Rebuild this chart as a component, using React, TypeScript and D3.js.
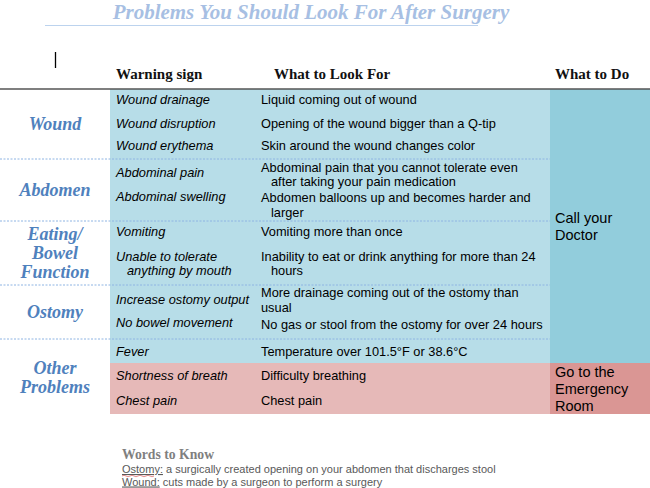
import React from "react";
import * as d3 from "d3";

// ---------- data ----------
const title = "Problems You Should Look For After Surgery";
const headers = ["Warning sign", "What to Look For", "What to Do"];

const categories = ["Wound", "Abdomen", "Eating/|Bowel|Function", "Ostomy", "Other|Problems"];
const warningSigns = [
  "Wound drainage",
  "Wound disruption",
  "Wound erythema",
  "Abdominal pain",
  "Abdominal swelling",
  "Vomiting",
  "Unable to tolerate|anything by mouth",
  "Increase ostomy output",
  "No bowel movement",
  "Fever",
  "Shortness of breath",
  "Chest pain",
];
const lookFor = [
  "Liquid coming out of wound",
  "Opening of the wound bigger than a Q-tip",
  "Skin around the wound changes color",
  "Abdominal pain that you cannot tolerate even|after taking your pain medication",
  "Abdomen balloons up and becomes harder and|larger",
  "Vomiting more than once",
  "Inability to eat or drink anything for more than 24|hours",
  "More drainage coming out of the ostomy than|~usual",
  "No gas or stool from the ostomy for over 24 hours",
  "Temperature over 101.5°F or 38.6°C",
  "Difficulty breathing",
  "Chest pain",
];
const actions = { call: "Call your|Doctor", er: "Go to the|Emergency|Room" };

const glossaryTitle = "Words to Know";
const glossaryTerms = ["Ostomy:", "Wound:"];
const glossaryDefs = [" a surgically created opening on your abdomen that discharges stool", " cuts made by a surgeon to perform a surgery"];

// ---------- layout ----------
const W = 650, H = 488;
const rowCenters = [100, 124, 146, 174.5, 205, 232, 263.5, 300, 325, 351.5, 376, 401];
const signOffsets = [0, 0, 0, -1.5, -8, 0, 0, 0, -2, 0, 0, 0];
const tableTop = 89, tableBottom = 414, pinkStart = 363;
const xCat = 55, xSign = 116, xLook = 261, xDo = 550, xTextDo = 555;
const separators = [159, 221, 285, 339];
const catCenters = [124, 190, 253, 312, 377];

const yScale = d3.scaleLinear().domain([0, H]).range([0, H]);
const lineH = 14.5;

const blueLight = "#b7dde8";
const blueDark = "#92cddc";
const pinkLight = "#e6b9b8";
const pinkDark = "#da9694";

function Lines({ text, x, cy, size, lh, indent = 11, anchor = "start", fill = "#000", family, weight, italic }: any) {
  const parts = text.split("|");
  const y0 = cy - ((parts.length - 1) * lh) / 2;
  return (
    <text fontFamily={family} fontSize={size} fontWeight={weight} fontStyle={italic ? "italic" : "normal"} fill={fill} textAnchor={anchor}>
      {parts.map((p: string, i: number) => {
        const noIndent = p.startsWith("~");
        const t = noIndent ? p.slice(1) : p;
        const dx = anchor === "start" && i > 0 && !noIndent ? indent : 0;
        return (
          <tspan key={i} x={x + dx} y={yScale(y0 + i * lh)} dy="0.35em">
            {t}
          </tspan>
        );
      })}
    </text>
  );
}

export default function App() {
  const sans = "'Liberation Sans', Arial, sans-serif";
  const serif2 = "'Liberation Serif', serif";

  return (
    <svg width={W} height={H} style={{ position: "absolute", left: 0, top: 0 }}>
      <rect x={0} y={0} width={W} height={H} fill="#fff" />
      {/* title */}
      <text x={311} y={19} textAnchor="middle" fontFamily={serif2} fontStyle="italic" fontWeight="bold" fontSize={21} fill="#a7bfe3">
        {title}
      </text>
      <line x1={45} x2={478} y1={25.5} y2={25.5} stroke="#bcd3ee" strokeWidth={1.2} />
      {/* cursor */}
      <line x1={55.5} x2={55.5} y1={52} y2={68} stroke="#000" strokeWidth={1.3} />
      {/* headers */}
      {[xSign, 274, xTextDo].map((x, i) => (
        <text key={i} x={x} y={79} fontFamily={serif2} fontWeight="bold" fontSize={15} fill="#111">
          {headers[i]}
        </text>
      ))}
      {/* backgrounds */}
      <rect x={110} y={tableTop} width={xDo - 110} height={pinkStart - tableTop} fill={blueLight} />
      <rect x={xDo} y={tableTop} width={W - xDo} height={pinkStart - tableTop} fill={blueDark} />
      <rect x={110} y={pinkStart} width={xDo - 110} height={tableBottom - pinkStart} fill={pinkLight} />
      <rect x={xDo} y={pinkStart} width={W - xDo} height={tableBottom - pinkStart} fill={pinkDark} />
      {/* top border */}
      <line x1={0} x2={W} y1={tableTop} y2={tableTop} stroke="#555" strokeWidth={1.5} />
      {/* separators */}
      {separators.map((y, i) => (
        <line key={i} x1={0} x2={xDo} y1={y} y2={y} stroke="#8eb4e3" strokeWidth={1} strokeDasharray="2,1.5" />
      ))}
      {/* categories */}
      {categories.map((c, i) => (
        <Lines key={i} text={c} x={xCat} cy={catCenters[i]} size={18} lh={19} anchor="middle" fill="#4f81bd" family={serif2} weight="bold" italic />
      ))}
      {/* warning signs */}
      {warningSigns.map((s, i) => (
        <Lines key={i} text={s} x={xSign} cy={rowCenters[i] + signOffsets[i]} size={12.8} lh={lineH} fill="#000" family={sans} italic />
      ))}
      {/* look for */}
      {lookFor.map((s, i) => (
        <Lines key={i} text={s} x={xLook} cy={rowCenters[i]} size={12.8} lh={lineH} indent={10} fill="#000" family={sans} />
      ))}
      {/* actions */}
      <Lines text={actions.call} x={xTextDo} cy={226.5} size={14.5} lh={17} fill="#000" family={sans} indent={0} />
      <Lines text={actions.er} x={xTextDo} cy={389} size={14.5} lh={17} fill="#000" family={sans} indent={0} />
      {/* glossary */}
      <text x={122} y={459} fontFamily={serif2} fontWeight="bold" fontSize={13.7} fill="#7f7f7f">
        {glossaryTitle}
      </text>
      {glossaryTerms.map((t, i) => (
        <text key={i} x={122} y={473 + i * 12.5} fontFamily={sans} fontSize={11} fill="#595959">
          <tspan textDecoration="underline">{t}</tspan>
          <tspan>{glossaryDefs[i]}</tspan>
        </text>
      ))}
      <path d="M122,476 q2,-1.5 4,0 t4,0 t4,0 t4,0 t4,0 t4,0 t4,0 t4,0" fill="none" stroke="#e06060" strokeWidth={0.7} />
    </svg>
  );
}
